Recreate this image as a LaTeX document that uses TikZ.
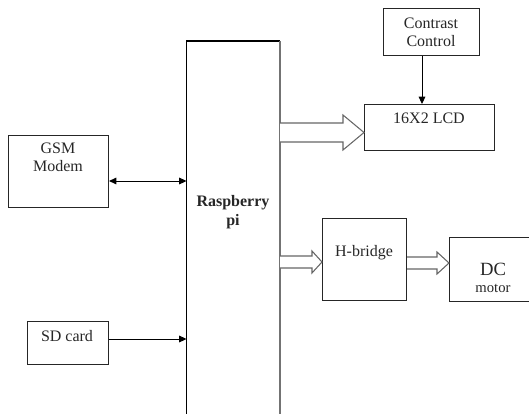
\documentclass[tikz,border=0pt]{standalone}
\usepackage{fontspec}
\setmainfont{Liberation Serif}
\usetikzlibrary{arrows.meta}
\begin{document}
\begin{tikzpicture}[x=0.75pt,y=-0.75pt,
  box/.style={draw=black!85,line width=0.8pt,rectangle,anchor=north west,inner sep=0pt},
  lbl/.style={font=\fontsize{12}{14}\selectfont,text=black!85,inner sep=0pt},
  hollow/.style={draw=black!60,line width=0.8pt,fill=white,line join=miter},
  conn/.style={draw=black,line width=0.7pt},
  tip/.style={-{Triangle[length=5.5pt,width=5pt]}}]
\useasboundingbox (0,0) rectangle (529,414);
% boxes
\node[box,minimum width=96*0.75pt,minimum height=47*0.75pt] (cc) at (383,8) {};
\node[box,minimum width=130*0.75pt,minimum height=46*0.75pt] (lcd) at (364,104) {};
\node[box,minimum width=84*0.75pt,minimum height=82*0.75pt] (hb) at (322,218) {};
\node[box,minimum width=100*0.75pt,minimum height=72*0.75pt] (gsm) at (8,135) {};
\node[box,minimum width=81*0.75pt,minimum height=43*0.75pt] (sd) at (27,321) {};
% open boxes (extend past the picture edge)
\coordinate (rpbl) at (186.5,414);
\coordinate (rptl) at (186.5,41);
\coordinate (rptr) at (280,41);
\coordinate (rpbr) at (280,414);
\draw[black,line width=0.8pt] (rpbl) -- (rptl) -- (rptr);
\draw[black!55,line width=1.1pt] (rptr) -- (rpbr);
\coordinate (dctr) at (529,237);
\coordinate (dctl) at (449,237);
\coordinate (dcbl) at (449,301);
\coordinate (dcbr) at (529,301);
\draw[black!85,line width=0.7pt] (dctr) -- (dctl) -- (dcbl) -- (dcbr);
% texts
\node[lbl] (cct1) at (431,23) {Contrast};
\node[lbl] (cct2) at (431,41) {Control};
\node[lbl] (lcdt) at (429,118) {16X2 LCD};
\node[lbl] (hbt) at (364,253) {H-bridge};
\node[lbl,font=\fontsize{14}{16}\selectfont] (dct1) at (493,269) {DC};
\node[lbl,font=\fontsize{11}{13}\selectfont] (dct2) at (493,288) {motor};
\node[lbl] (gsmt1) at (58,148) {GSM};
\node[lbl] (gsmt2) at (58,166) {Modem};
\node[lbl] (sdt) at (67,336) {SD card};
\node[lbl,font=\bfseries\fontsize{12}{14}\selectfont] (rpt1) at (233,203) {Raspberry};
\node[lbl,font=\bfseries\fontsize{12}{14}\selectfont] (rpt2) at (233,222) {pi};
% thin arrows
\draw[conn,tip] (cc.south -| 422,0) -- (lcd.north -| 422,0);
\draw[conn,{Triangle[length=5.5pt,width=5pt]}-{Triangle[length=5.5pt,width=5pt]}] (gsm.east |- 0,181) -- (rptl |- 0,181);
\draw[conn,tip] (sd.east |- 0,339) -- (rptl |- 0,339);
% hollow arrows
\draw[hollow] (rptr |- 0,123) -- (343,123) -- (343,115) -- (lcd.west |- 0,132.5) -- (343,150) -- (343,142) -- (rptr |- 0,142);
\draw[hollow] (rptr |- 0,256) -- (312,256) -- (312,251) -- (hb.west |- 0,262) -- (312,273) -- (312,268) -- (rptr |- 0,268);
\draw[hollow] (hb.east |- 0,257) -- (437,257) -- (437,252) -- (dctl |- 0,263) -- (437,274) -- (437,269) -- (hb.east |- 0,269);
\end{tikzpicture}
\end{document}
